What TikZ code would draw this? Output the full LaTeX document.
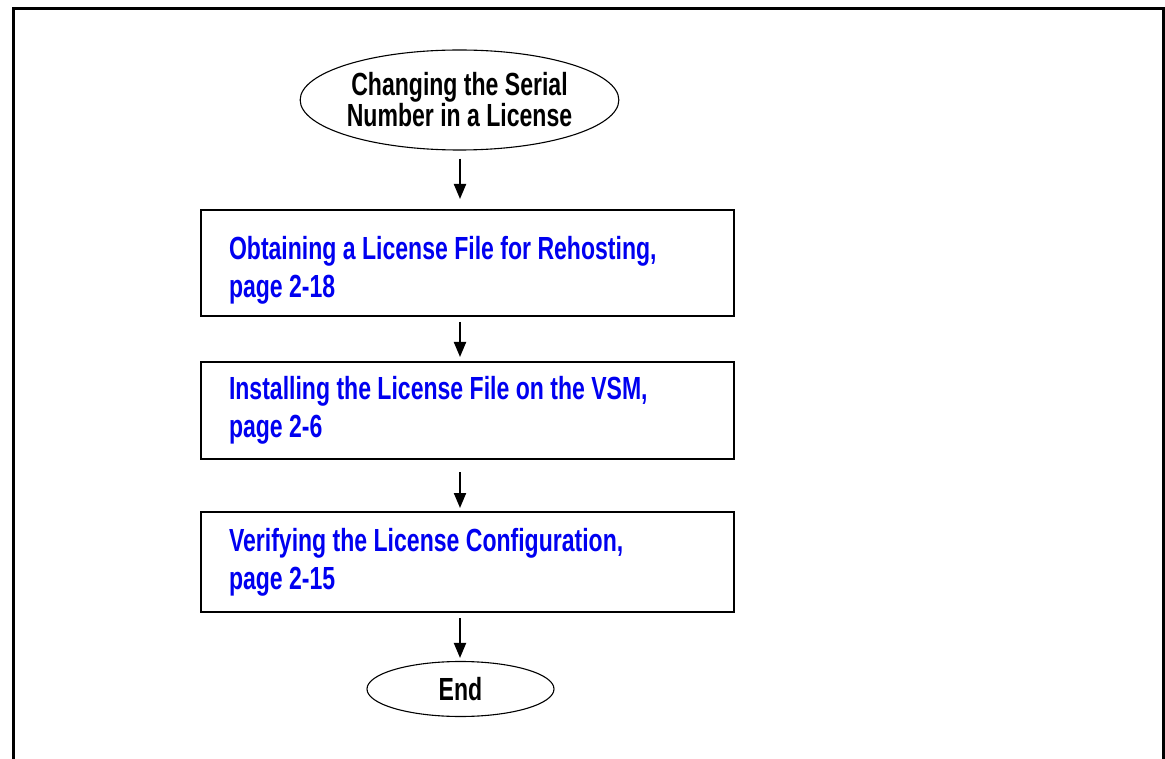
\documentclass[tikz,border=0pt]{standalone}
\usepackage{fontspec}
\setmainfont{Liberation Sans}[FakeStretch=0.72]
\usetikzlibrary{shapes.geometric,arrows.meta}
\definecolor{linkblue}{RGB}{0,0,240}
\tikzset{
  startend/.style={ellipse, draw, line width=1.1pt, inner sep=0pt, align=center,
    font=\bfseries\fontsize{32}{31}\selectfont},
  stepbox/.style={rectangle, draw, line width=2pt, inner xsep=28pt, inner ysep=0pt,
    text width=477pt, align=flush left, text=linkblue,
    font=\bfseries\fontsize{32}{38}\selectfont},
  arr/.style={line width=2pt, -{Triangle[width=12pt,length=15pt]}},
  frame/.style={line width=3pt}
}
\begin{document}
\begin{tikzpicture}[x=1pt,y=-1pt]
\useasboundingbox (0,0) rectangle (1165,759);
\draw[frame] (13.5,762) -- (13.5,9) -- (1163,9) -- (1163,762);
\node[startend, minimum width=309pt, minimum height=100pt] (e1) at (459.5,100)
  {Changing the Serial\\Number in a License};
\node[stepbox, minimum height=106pt] (b1) at (467.5,263) {\rule{0pt}{38pt}Obtaining a License File for Rehosting,\\page 2-18};
\node[stepbox, minimum height=97pt] (b2) at (467.5,410.5) {Installing the License File on the VSM,\\page 2-6};
\node[stepbox, minimum height=100pt] (b3) at (467.5,562) {Verifying the License Configuration,\\page 2-15};
\node[startend, minimum width=187pt, minimum height=55pt] (e2) at (460.5,689) {End};
\coordinate (ax) at (460,0);
\draw[arr, shorten <=8pt, shorten >=10pt] (ax |- e1.south) -- (ax |- b1.north);
\draw[arr, shorten <=5pt, shorten >=4pt] (ax |- b1.south) -- (ax |- b2.north);
\draw[arr, shorten <=12pt, shorten >=3pt] (ax |- b2.south) -- (ax |- b3.north);
\draw[arr, shorten <=5pt, shorten >=3pt] (ax |- b3.south) -- (ax |- e2.north);
\end{tikzpicture}
\end{document}
